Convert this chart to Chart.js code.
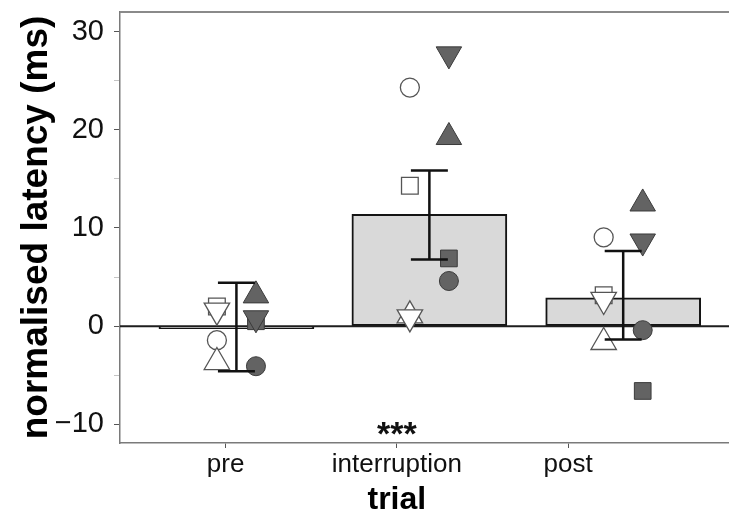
<!DOCTYPE html>
<html>
<head>
<meta charset="utf-8">
<script src="https://cdn.jsdelivr.net/npm/chart.js@4/dist/chart.umd.min.js"></script>
<style>
  html, body { margin: 0; padding: 0; background: #fff; }
  #wrap { width: 729px; height: 515px; }
</style>
</head>
<body>
<div id="wrap"><canvas id="chart" width="729" height="515"></canvas></div>
<script>
// Trial phases and group summaries (ms)
const trials = ['pre', 'interruption', 'post'];
const meanLatency = [-0.25, 11.4, 2.89];
const errLow = [-4.6, 6.8, -1.36];
const errHigh = [4.42, 15.85, 7.65];

// Individual animals, one array per symbol (values for pre, interruption, post)
const openCircle = [-1.43, 24.3, 9.05];
const openSquare = [2.0, 14.3, 3.16];
const openUp = [-3.67, 1.08, -1.63];
const openDown = [1.6, 0.92, 2.69];
const filledCircle = [-4.08, 4.6, -0.41];
const filledSquare = [0.5, 6.9, -6.6];
const filledUp = [3.12, 19.25, 12.48];
const filledDown = [0.82, 27.7, 8.64];

// Axis ticks and titles
const yTicks = [-10, -5, 0, 5, 10, 15, 20, 25, 30];
const xTicks = [0, 1, 2];
const xTitle = 'trial';
const yTitle = 'normalised latency (ms)';

// Significance marker for the interruption trial
const sigLabel = '***';
const sigAt = { x: 1, y: -10.1 };

// Layout on the numeric x axis
const groupX = [0.063, 1.19, 2.322];
const jitter = 0.114;
const capHalf = 0.108;

const FONT = '"Liberation Sans", Arial, Helvetica, sans-serif';

function pts(arr, dx) {
  return arr.map((v, i) => ({ x: groupX[i] + dx, y: v }));
}

const openStyle = { backgroundColor: '#ffffff', borderColor: '#555555', borderWidth: 1.3 };
const filledStyle = { backgroundColor: '#636363', borderColor: '#3a3a3a', borderWidth: 1 };

function symbol(label, arr, dx, style, shape, radius, rotation, order) {
  return {
    type: 'scatter', label, data: pts(arr, dx), order,
    pointStyle: shape, pointRadius: radius, pointRotation: rotation,
    pointBackgroundColor: style.backgroundColor,
    pointBorderColor: style.borderColor,
    pointBorderWidth: style.borderWidth,
    pointHoverRadius: radius, clip: false
  };
}

const boxAndZero = {
  id: 'boxAndZero',
  beforeDatasetsDraw(chart) {
    const { ctx, chartArea: a } = chart;
    ctx.save();
    ctx.strokeStyle = '#8a8a8a';
    ctx.lineWidth = 2;
    ctx.beginPath();
    ctx.moveTo(a.left, a.top);
    ctx.lineTo(a.right, a.top);
    ctx.stroke();
    ctx.restore();
  },
  afterDatasetDraw(chart, args) {
    if (args.index !== 0) return;
    const { ctx, chartArea: a, scales: { y } } = chart;
    const y0 = y.getPixelForValue(0);
    ctx.save();
    ctx.strokeStyle = '#1e1e1e';
    ctx.lineWidth = 2;
    ctx.beginPath();
    ctx.moveTo(a.left, y0);
    ctx.lineTo(a.right, y0);
    ctx.stroke();
    ctx.restore();
  },
  afterDatasetsDraw(chart) {
    const { ctx, scales: { x, y } } = chart;
    ctx.save();
    ctx.strokeStyle = '#111';
    ctx.lineWidth = 2.5;
    ctx.lineCap = 'butt';
    trials.forEach((t, i) => {
      const cx = x.getPixelForValue(groupX[i]);
      const l = x.getPixelForValue(groupX[i] - capHalf);
      const r = x.getPixelForValue(groupX[i] + capHalf);
      const yl = y.getPixelForValue(errLow[i]);
      const yh = y.getPixelForValue(errHigh[i]);
      ctx.beginPath();
      ctx.moveTo(cx, yl); ctx.lineTo(cx, yh);
      ctx.moveTo(l, yl); ctx.lineTo(r, yl);
      ctx.moveTo(l, yh); ctx.lineTo(r, yh);
      ctx.stroke();
    });
    // significance stars
    const fs = 34;
    ctx.fillStyle = '#111';
    ctx.font = 'bold ' + fs + 'px ' + FONT;
    ctx.textAlign = 'center';
    ctx.textBaseline = 'alphabetic';
    ctx.fillText(sigLabel, x.getPixelForValue(sigAt.x), y.getPixelForValue(sigAt.y) + 0.58 * fs);
    // x axis title, centred under the middle category
    ctx.fillStyle = '#000';
    ctx.font = 'bold 32px ' + FONT;
    ctx.fillText(xTitle, x.getPixelForValue(xTicks[1]), chart.height - 6);
    ctx.restore();
  }
};

new Chart(document.getElementById('chart'), {
  type: 'bar',
  data: {
    datasets: [
      {
        type: 'bar', label: 'mean', order: 20,
        data: meanLatency.map((v, i) => ({ x: groupX[i], y: v })),
        backgroundColor: '#d9d9d9', borderColor: '#141414', borderWidth: 2,
        borderSkipped: false, barThickness: 155
      },
      symbol('open circle', openCircle, -jitter, openStyle, 'circle', 9.5, 0, 9),
      symbol('open square', openSquare, -jitter, openStyle, 'rect', 11.8, 0, 8),
      symbol('open up', openUp, -jitter, openStyle, 'triangle', 14.7, 0, 7),
      symbol('open down', openDown, -jitter, openStyle, 'triangle', 14.7, 180, 6),
      symbol('filled square', filledSquare, jitter, filledStyle, 'rect', 11.8, 0, 5),
      symbol('filled circle', filledCircle, jitter, filledStyle, 'circle', 9.5, 0, 4),
      symbol('filled up', filledUp, jitter, filledStyle, 'triangle', 14.7, 0, 3),
      symbol('filled down', filledDown, jitter, filledStyle, 'triangle', 14.7, 180, 2)
    ]
  },
  options: {
    responsive: false,
    animation: false,
    devicePixelRatio: 1,
    layout: { autoPadding: false, padding: { top: 12, left: 0, right: 0, bottom: 0 } },
    plugins: { legend: { display: false }, tooltip: { enabled: false } },
    scales: {
      x: {
        type: 'linear', min: -0.617, max: 2.94, offset: false,
        afterBuildTicks: s => { s.ticks = xTicks.map(v => ({ value: v })); },
        afterFit: s => { s.height = 72; s.paddingLeft = 0; s.paddingRight = 0; },
        grid: { offset: false, drawOnChartArea: false, drawTicks: true, tickLength: 5, tickColor: '#555', tickWidth: 1 },
        border: { display: true, color: '#7a7a7a', width: 1.5 },
        ticks: {
          autoSkip: false, maxRotation: 0, padding: 1, color: '#111',
          font: { family: FONT, size: 26 },
          callback: v => trials[v] ?? ''
        },
        title: { display: false }
      },
      y: {
        type: 'linear', min: -11.9, max: 32.0,
        afterBuildTicks: s => { s.ticks = yTicks.map(v => ({ value: v })); },
        afterFit: s => { s.width = 120; s.paddingTop = 0; s.paddingBottom = 0; },
        grid: {
          drawOnChartArea: false, drawTicks: true, tickLength: 6, tickWidth: 1,
          tickColor: c => (c.tick && c.tick.value % 10 === 0) ? '#555' : '#c4c4c4'
        },
        border: { display: true, color: '#7a7a7a', width: 1.5 },
        ticks: {
          autoSkip: false, padding: 10, color: '#111',
          font: { family: FONT, size: 29 },
          callback: v => (v % 10 === 0) ? String(v).replace('-', '\u2212') : ''
        },
        title: {
          display: true, text: yTitle, color: '#000',
          font: { family: FONT, size: 37, weight: 'bold', lineHeight: 1 },
          padding: { top: 18, bottom: 0 }
        }
      }
    }
  },
  plugins: [boxAndZero]
});
</script>
</body>
</html>
